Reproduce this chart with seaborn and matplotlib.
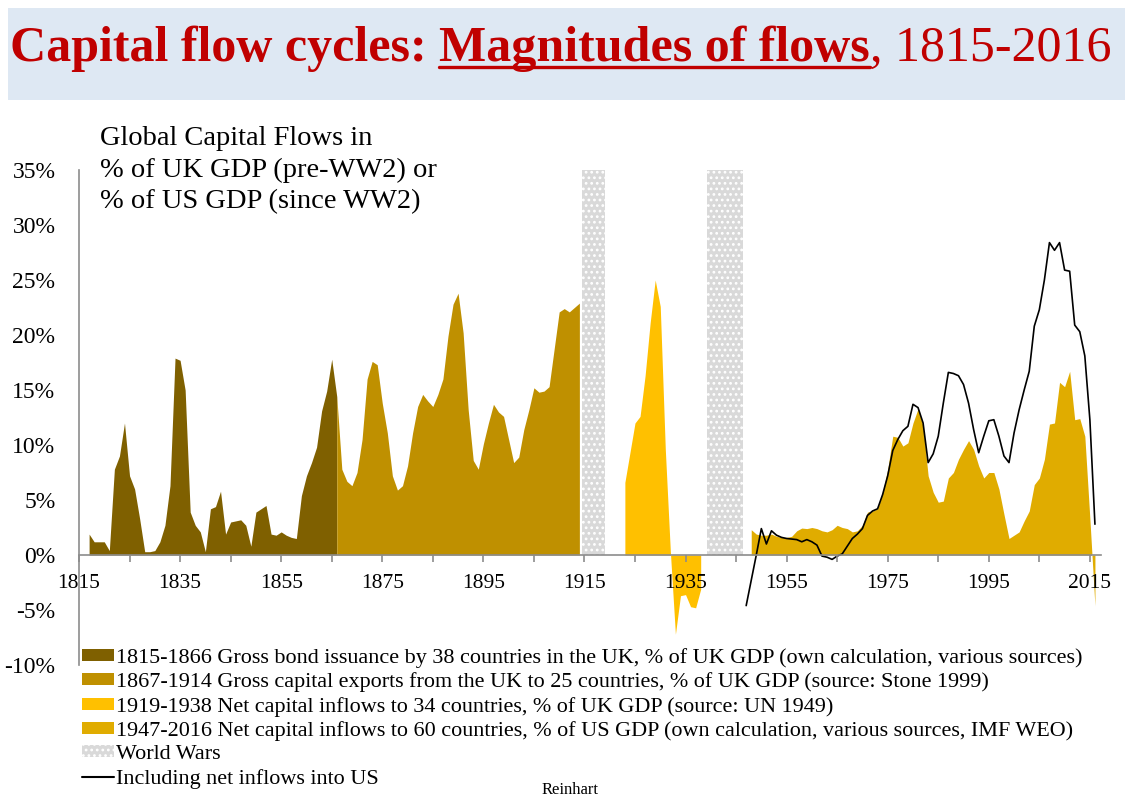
import matplotlib
matplotlib.use("Agg")
import matplotlib.pyplot as plt
import seaborn as sns
from matplotlib.patches import Patch, Rectangle
from matplotlib.lines import Line2D
from matplotlib.ticker import FixedLocator, MultipleLocator, FuncFormatter

# 1815-1866 gross bond issuance by 38 countries in the UK, % of UK GDP
bond_years = list(range(1817, 1867))
bond_vals = [1.9, 1.2, 1.2, 1.2, 0.4, 7.8, 9.0, 12.0, 7.2, 6.0,
             3.3, 0.3, 0.3, 0.4, 1.2, 2.7, 6.3, 17.9, 17.7, 15.0,
             3.9, 2.7, 2.1, 0.3, 4.2, 4.4, 5.8, 1.9, 3.0, 3.1,
             3.2, 2.7, 0.8, 3.9, 4.2, 4.5, 1.9, 1.8, 2.1, 1.8,
             1.6, 1.5, 5.4, 7.2, 8.4, 9.8, 13.1, 14.9, 17.8, 14.4]

# 1867-1914 gross capital exports from the UK (starts at 1866 to join the first series)
export_years = list(range(1866, 1915))
export_vals = [14.4,
               7.8, 6.7, 6.3, 7.5, 10.5, 16.0, 17.6, 17.3, 13.8, 11.1,
               7.2, 5.9, 6.3, 8.1, 11.1, 13.5, 14.6, 14.0, 13.5, 14.6,
               16.0, 19.9, 22.8, 23.8, 20.2, 13.2, 8.6, 7.8, 10.1, 12.0,
               13.7, 13.0, 12.6, 10.5, 8.4, 8.9, 11.4, 13.2, 15.2, 14.8,
               14.9, 15.3, 18.7, 22.1, 22.4, 22.1, 22.5, 22.9]

# 1919-1938 net capital inflows to 34 countries
interwar_years = list(range(1923, 1939))
interwar_vals = [6.6, 9.3, 12.0, 12.6, 16.3, 21.1, 25.0, 22.6, 9.6, 0.3,
                 -7.2, -3.7, -3.6, -4.7, -4.8, -3.1]

# 1947-2016 net capital inflows to 60 countries, % of US GDP
postwar_years = list(range(1948, 2017))
postwar_vals = [2.3, 1.9, 1.8, 1.8, 1.9, 1.7, 1.6, 1.6, 1.7, 2.2,
                2.45, 2.4, 2.5, 2.4, 2.2, 2.1, 2.3, 2.7, 2.5, 2.4,
                2.1, 2.2, 2.7, 3.9, 4.0, 4.2, 5.7, 7.8, 10.8, 10.7,
                9.9, 10.2, 12.0, 13.3, 11.7, 7.2, 5.7, 4.8, 4.9, 7.0,
                7.5, 8.7, 9.6, 10.4, 9.6, 8.1, 7.0, 7.5, 7.5, 6.0,
                3.7, 1.5, 1.8, 2.1, 3.1, 4.0, 6.4, 7.0, 8.7, 11.9,
                12.0, 15.7, 15.3, 16.7, 12.3, 12.4, 10.8, 3.3, -4.6]

# including net inflows into US
us_years = list(range(1947, 2017))
us_vals = [-4.6, -2.3, 0.0, 2.4, 1.0, 2.2, 1.8, 1.6, 1.5, 1.45,
           1.4, 1.2, 1.4, 1.2, 0.9, -0.1, -0.2, -0.4, -0.1, 0.1,
           0.8, 1.5, 1.9, 2.4, 3.6, 4.0, 4.2, 5.5, 7.2, 9.5,
           10.5, 11.3, 11.7, 13.7, 13.4, 12.0, 8.4, 9.2, 10.8, 13.8,
           16.6, 16.5, 16.3, 15.5, 13.8, 11.4, 9.3, 10.8, 12.2, 12.3,
           10.8, 9.0, 8.4, 11.1, 13.2, 15.0, 16.7, 20.8, 22.3, 25.0,
           28.4, 27.7, 28.4, 25.9, 25.8, 20.9, 20.3, 18.1, 12.3, 2.8]

# world wars shading
ww_start = [1914.5, 1939.2]
ww_end = [1919.0, 1946.4]
ww_top = 35

xtick_years = list(range(1815, 2016, 10))
xlabel_years = list(range(1815, 2016, 20))

labels = [
    "1815-1866 Gross bond issuance by 38 countries in the UK, % of UK GDP (own calculation, various sources)",
    "1867-1914 Gross capital exports from the UK to 25 countries, % of UK GDP (source: Stone 1999)",
    "1919-1938 Net capital inflows to 34 countries, % of UK GDP (source: UN 1949)",
    "1947-2016 Net capital inflows to 60 countries, % of US GDP (own calculation, various sources, IMF WEO)",
    "World Wars",
    "Including net inflows into US",
]
colors = ["#7F6000", "#BF9000", "#FFC000", "#E0AC00"]
ww_color = "#D9D9D9"
red = "#C00000"

sns.set_style("white")
plt.rcParams["font.family"] = ["Liberation Serif", "DejaVu Serif"]
plt.rcParams["hatch.linewidth"] = 1.2
plt.rcParams["text.color"] = "black"
plt.rcParams["xtick.labelcolor"] = "black"
plt.rcParams["ytick.labelcolor"] = "black"

W, H = 1125, 799
fig = plt.figure(figsize=(W / 100, H / 100), dpi=100)

# title band
fig.add_artist(Rectangle((8 / W, 1 - 100 / H), 1117 / W, 92 / H, transform=fig.transFigure,
                         facecolor="#DEE8F3", edgecolor="none", zorder=0))

ax = fig.add_axes([79 / W, (H - 665) / H, 1022 / W, 495 / H])

# world war bands
for s, e in zip(ww_start, ww_end):
    ax.fill_between([s, e], 0, ww_top, facecolor=ww_color, edgecolor="white",
                    hatch="...", linewidth=0, zorder=1)

series = [(bond_years, bond_vals), (export_years, export_vals),
          (interwar_years, interwar_vals), (postwar_years, postwar_vals)]
for (yrs, vals), c in zip(series, colors):
    ax.fill_between(yrs, 0, vals, color=c, linewidth=0, zorder=2)

sns.lineplot(x=us_years, y=us_vals, color="black", linewidth=1.2, ax=ax, zorder=3)

ax.set_xlim(1815, 2017.2)
ax.set_ylim(-10, 35)
ax.set_xlabel("")
ax.set_ylabel("")

for side in ["top", "right"]:
    ax.spines[side].set_visible(False)
ax.spines["bottom"].set_position(("data", 0))
for side in ["bottom", "left"]:
    ax.spines[side].set_color("#8C8C8C")
    ax.spines[side].set_linewidth(1.2)
    ax.spines[side].set_zorder(4)
ax.xaxis.set_zorder(5)

ax.xaxis.set_major_locator(FixedLocator(xtick_years))
ax.xaxis.set_major_formatter(FuncFormatter(
    lambda v, p: f"{int(round(v))}" if int(round(v)) in xlabel_years else ""))
ax.yaxis.set_major_locator(MultipleLocator(5))
ax.yaxis.set_major_formatter(FuncFormatter(lambda v, p: f"{int(round(v))}%"))
ax.tick_params(axis="x", direction="out", length=5, width=1.2, color="#8C8C8C",
               labelsize=15.5, pad=9, bottom=True, labelbottom=True, labelcolor="black")
ax.tick_params(axis="y", length=0, labelsize=17, pad=17, left=True, labelcolor="black")

ax.text(1819.2, 39.0, "Global Capital Flows in\n% of UK GDP (pre-WW2) or\n% of US GDP (since WW2)",
        fontsize=20.5, va="top", ha="left", linespacing=1.35, color="black")

# legend
handles = [Patch(facecolor=c, edgecolor="none") for c in colors]
handles.append(Patch(facecolor=ww_color, edgecolor="white", hatch="...", linewidth=0))
handles.append(Line2D([0], [0], color="black", linewidth=1.5))
fig.legend(handles, labels, loc="upper left", bbox_to_anchor=(82 / W, 1 - 648 / H),
           frameon=False, fontsize=15.9, handlelength=1.45, handleheight=0.45,
           handletextpad=0.1, labelspacing=0.2, borderpad=0, borderaxespad=0,
           labelcolor="black")

fig.text(570 / W, 1 - 798 / H, "Reinhart", fontsize=12, ha="center", va="bottom", color="black")

# title in three pieces
renderer = fig.canvas.get_renderer()
pieces = [("Capital flow cycles: ", "bold", False),
          ("Magnitudes of flows", "bold", True),
          (", 1815-2016", "normal", False)]
x = 10
base = 1 - 61 / H
for txt, weight, under in pieces:
    t = fig.text(x / W, base, txt, fontsize=36, fontweight=weight, color=red,
                 ha="left", va="baseline")
    bb = t.get_window_extent(renderer)
    if under:
        fig.add_artist(Line2D([bb.x0 / W, bb.x1 / W], [base - 6 / H] * 2,
                              transform=fig.transFigure, color=red, linewidth=2.4))
    x = bb.x1

fig.savefig("out.png", dpi=100)
